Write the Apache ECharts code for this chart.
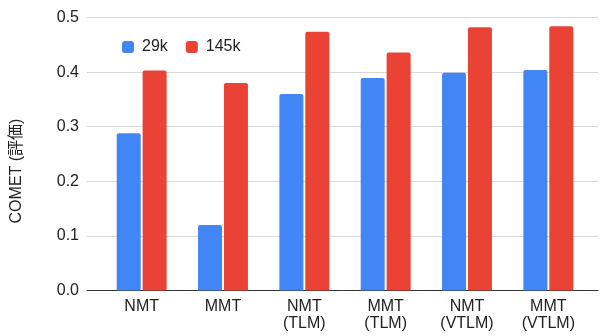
<!DOCTYPE html>
<html>
<head>
<meta charset="utf-8">
<script src="https://cdn.jsdelivr.net/npm/echarts@6/dist/echarts.min.js"></script>
<style>
  html, body { margin: 0; padding: 0; background: #fff; }
  #chart { width: 600px; height: 336px; }
</style>
</head>
<body>
<div id="chart"></div>
<script>
// COMET scores by system and training data size
const categories = ['NMT', 'MMT', 'NMT\n(TLM)', 'MMT\n(TLM)', 'NMT\n(VTLM)', 'MMT\n(VTLM)'];
const seriesNames = ['29k', '145k'];
const values29k = [0.288, 0.120, 0.360, 0.389, 0.399, 0.404];
const values145k = [0.403, 0.380, 0.474, 0.436, 0.482, 0.484];
const yTicks = [0.0, 0.1, 0.2, 0.3, 0.4, 0.5];

const FONT = '"Liberation Sans", Arial, "Noto Sans CJK JP", sans-serif';
const TEXT = '#222';

const chart = echarts.init(document.getElementById('chart'), null, { renderer: 'canvas' });

const yMin = yTicks[0];
const yMax = yTicks[yTicks.length - 1];
const yStep = +(yTicks[1] - yTicks[0]).toFixed(3);

chart.setOption({
  animation: false,
  backgroundColor: '#fff',
  textStyle: { fontFamily: FONT },
  legend: {
    data: seriesNames,
    left: 117,
    top: 34,
    itemWidth: 12,
    itemHeight: 12,
    itemGap: 18,
    icon: 'roundRect',
    textStyle: { fontSize: 16, color: TEXT, fontFamily: FONT, padding: [0, 0, 0, 3] }
  },
  grid: [
    // frame grid: value gridlines, y labels, baseline
    { left: 87, right: 2, top: 17.5, bottom: 45.5 },
    // bar grid
    { left: 101, right: 11, top: 17.5, bottom: 45.5 }
  ],
  xAxis: [
    {
      gridIndex: 0,
      type: 'value',
      min: 0, max: 1,
      axisLine: { show: true, onZero: false, lineStyle: { color: '#333', width: 1 } },
      axisTick: { show: false },
      axisLabel: { show: false },
      splitLine: { show: false }
    },
    {
      gridIndex: 1,
      type: 'category',
      data: categories,
      axisLine: { show: false },
      axisTick: { show: false },
      axisLabel: {
        margin: 8,
        fontSize: 16,
        lineHeight: 17,
        color: TEXT,
        fontFamily: FONT,
        interval: 0
      }
    }
  ],
  yAxis: [
    {
      gridIndex: 0,
      type: 'value',
      min: yMin, max: yMax, interval: yStep,
      axisLine: { show: false },
      axisTick: { show: false },
      axisLabel: {
        margin: 8,
        fontSize: 16,
        color: TEXT,
        fontFamily: FONT,
        formatter: v => v.toFixed(1)
      },
      splitLine: { lineStyle: { color: '#d9d9d9', width: 1 } }
    },
    {
      gridIndex: 1,
      type: 'value',
      min: yMin, max: yMax, interval: yStep,
      axisLine: { show: false },
      axisTick: { show: false },
      axisLabel: { show: false },
      splitLine: { show: false }
    }
  ],
  graphic: [{
    type: 'text',
    x: 17,
    y: 171,
    rotation: Math.PI / 2,
    style: {
      text: 'COMET (評価)',
      fill: TEXT,
      font: '16px ' + FONT,
      textAlign: 'center',
      textVerticalAlign: 'middle'
    }
  }],
  series: [
    {
      name: seriesNames[0],
      type: 'bar',
      xAxisIndex: 1,
      yAxisIndex: 1,
      data: values29k,
      barWidth: 24,
      barGap: '8%',
      itemStyle: { color: '#4285F4', borderRadius: [2, 2, 0, 0] }
    },
    {
      name: seriesNames[1],
      type: 'bar',
      xAxisIndex: 1,
      yAxisIndex: 1,
      data: values145k,
      barWidth: 24,
      barGap: '8%',
      itemStyle: { color: '#EA4335', borderRadius: [2, 2, 0, 0] }
    }
  ]
});
</script>
</body>
</html>
